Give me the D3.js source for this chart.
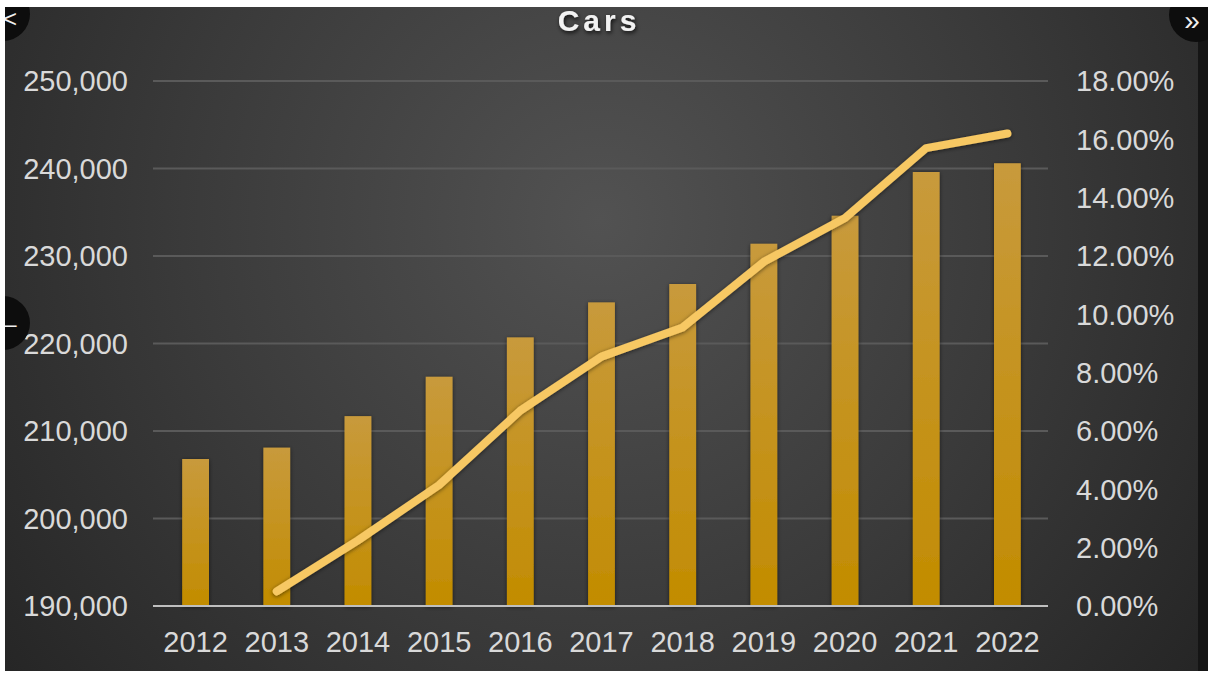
<!DOCTYPE html>
<html>
<head>
<meta charset="utf-8">
<script src="https://cdn.jsdelivr.net/npm/d3@7"></script>
<style>
  html, body { margin: 0; padding: 0; background: #ffffff; }
  svg { display: block; }
  text { font-family: "Liberation Sans", Arial, sans-serif; }
</style>
</head>
<body>
<svg id="chart" width="1208" height="673"></svg>
<script>
// Registered cars per year (bars, left axis)
const years = ["2012", "2013", "2014", "2015", "2016", "2017", "2018", "2019", "2020", "2021", "2022"];
const cars = [206800, 208100, 211700, 216200, 220700, 224700, 226800, 231400, 234600, 239600, 240600];
// Cumulative growth in percent (line, right axis); no value for the first year
const growth = [null, 0.5, 2.25, 4.15, 6.7, 8.55, 9.55, 11.8, 13.3, 15.7, 16.2];
// Axis ticks
const leftTicks = [190000, 200000, 210000, 220000, 230000, 240000, 250000];
const rightTicks = [0, 2, 4, 6, 8, 10, 12, 14, 16, 18];
const title = "Cars";

const svg = d3.select("#chart");
const defs = svg.append("defs");

// Panel background: soft radial spotlight on a dark grey
const bg = defs.append("radialGradient").attr("id", "bgGrad")
  .attr("gradientUnits", "userSpaceOnUse")
  .attr("cx", 600).attr("cy", 220).attr("r", 760);
bg.append("stop").attr("offset", "0%").attr("stop-color", "#525252");
bg.append("stop").attr("offset", "55%").attr("stop-color", "#3a3a3a");
bg.append("stop").attr("offset", "100%").attr("stop-color", "#252525");

const barGrad = defs.append("linearGradient").attr("id", "barGrad")
  .attr("x1", 0).attr("y1", 0).attr("x2", 0).attr("y2", 1);
barGrad.append("stop").attr("offset", "0%").attr("stop-color", "#c89a3c");
barGrad.append("stop").attr("offset", "100%").attr("stop-color", "#c28c00");

const shadow = defs.append("filter").attr("id", "shadow")
  .attr("x", "-20%").attr("y", "-20%").attr("width", "140%").attr("height", "140%");
shadow.append("feDropShadow").attr("dx", 0).attr("dy", 1).attr("stdDeviation", 2)
  .attr("flood-color", "#000").attr("flood-opacity", 0.55);

const textShadow = defs.append("filter").attr("id", "textShadow")
  .attr("x", "-20%").attr("y", "-40%").attr("width", "140%").attr("height", "180%");
textShadow.append("feDropShadow").attr("dx", 1).attr("dy", 2).attr("stdDeviation", 2)
  .attr("flood-color", "#000").attr("flood-opacity", 0.8);

// Panel
svg.append("rect").attr("x", 5).attr("y", 7).attr("width", 1203).attr("height", 664)
  .attr("fill", "url(#bgGrad)");
svg.append("rect").attr("x", 1198).attr("y", 7).attr("width", 10).attr("height", 664)
  .attr("fill", "#151515");

// Scales
const x = d3.scaleBand().domain(years).range([155, 1048]).paddingInner(0.67).paddingOuter(0.335);
const yLeft = d3.scaleLinear().domain([190000, 250000]).range([606, 81]);
const yRight = d3.scaleLinear().domain([0, 18]).range([606, 81]);

// Gridlines
svg.append("g").selectAll("line").data(leftTicks.slice(1)).join("line")
  .attr("x1", 153).attr("x2", 1048)
  .attr("y1", d => yLeft(d)).attr("y2", d => yLeft(d))
  .attr("stroke", "#5a5a5a").attr("stroke-width", 2);

// Bars
svg.append("g").selectAll("rect").data(years).join("rect")
  .attr("x", (d) => x(d))
  .attr("width", x.bandwidth())
  .attr("y", (d, i) => yLeft(cars[i]))
  .attr("height", (d, i) => yLeft(190000) - yLeft(cars[i]))
  .attr("fill", "url(#barGrad)")
  .attr("filter", "url(#shadow)");

// Category axis baseline
svg.append("line").attr("x1", 153).attr("x2", 1048)
  .attr("y1", 606).attr("y2", 606)
  .attr("stroke", "#bfbfbf").attr("stroke-width", 2);

// Growth line
const line = d3.line()
  .defined(d => d.v !== null)
  .x(d => x(d.year) + x.bandwidth() / 2)
  .y(d => yRight(d.v));
svg.append("path")
  .datum(years.map((year, i) => ({ year, v: growth[i] })))
  .attr("d", line)
  .attr("fill", "none")
  .attr("stroke", "#f7c864")
  .attr("stroke-width", 8)
  .attr("stroke-linecap", "round")
  .attr("stroke-linejoin", "round")
  .attr("filter", "url(#shadow)");

// Left axis labels
const fmtInt = d3.format(",");
svg.append("g").selectAll("text").data(leftTicks).join("text")
  .attr("x", 128).attr("y", d => yLeft(d))
  .attr("dy", "0.36em")
  .attr("text-anchor", "end")
  .attr("font-size", 29)
  .attr("fill", "#d9d9d9")
  .text(d => fmtInt(d));

// Right axis labels
const fmtPct = d3.format(".2f");
svg.append("g").selectAll("text").data(rightTicks).join("text")
  .attr("x", 1076).attr("y", d => yRight(d))
  .attr("dy", "0.36em")
  .attr("text-anchor", "start")
  .attr("font-size", 29)
  .attr("fill", "#d9d9d9")
  .text(d => fmtPct(d) + "%");

// Category labels
svg.append("g").selectAll("text").data(years).join("text")
  .attr("x", d => x(d) + x.bandwidth() / 2).attr("y", 652)
  .attr("text-anchor", "middle")
  .attr("font-size", 29)
  .attr("fill", "#d9d9d9")
  .text(d => d);

// Title
svg.append("text")
  .attr("x", 599).attr("y", 31)
  .attr("text-anchor", "middle")
  .attr("font-size", 30)
  .attr("font-weight", "bold")
  .attr("letter-spacing", 4)
  .attr("fill", "#f2f2f2")
  .attr("filter", "url(#textShadow)")
  .text(title);

// Viewer navigation buttons overlaid on the panel edges
const navButtons = [
  { cx: 3, cy: 14, label: "<", tx: 10, ty: 27, size: 24 },
  { cx: 1196, cy: 15, label: "»", tx: 1192, ty: 30, size: 28 },
  { cx: 3, cy: 323, label: "–", tx: 10, ty: 332, size: 24 }
];
const nav = svg.append("g");
nav.selectAll("circle").data(navButtons).join("circle")
  .attr("cx", d => d.cx).attr("cy", d => d.cy).attr("r", 27)
  .attr("fill", "#0d0d0d");
nav.selectAll("text").data(navButtons).join("text")
  .attr("x", d => d.tx).attr("y", d => d.ty)
  .attr("text-anchor", "middle")
  .attr("font-size", d => d.size)
  .attr("fill", "#f0f0f0")
  .text(d => d.label);

// White frame edges
svg.append("rect").attr("x", 0).attr("y", 0).attr("width", 1208).attr("height", 7).attr("fill", "#fff");
svg.append("rect").attr("x", 0).attr("y", 0).attr("width", 5).attr("height", 673).attr("fill", "#fff");
svg.append("rect").attr("x", 0).attr("y", 671).attr("width", 1208).attr("height", 2).attr("fill", "#fff");
</script>
</body>
</html>
